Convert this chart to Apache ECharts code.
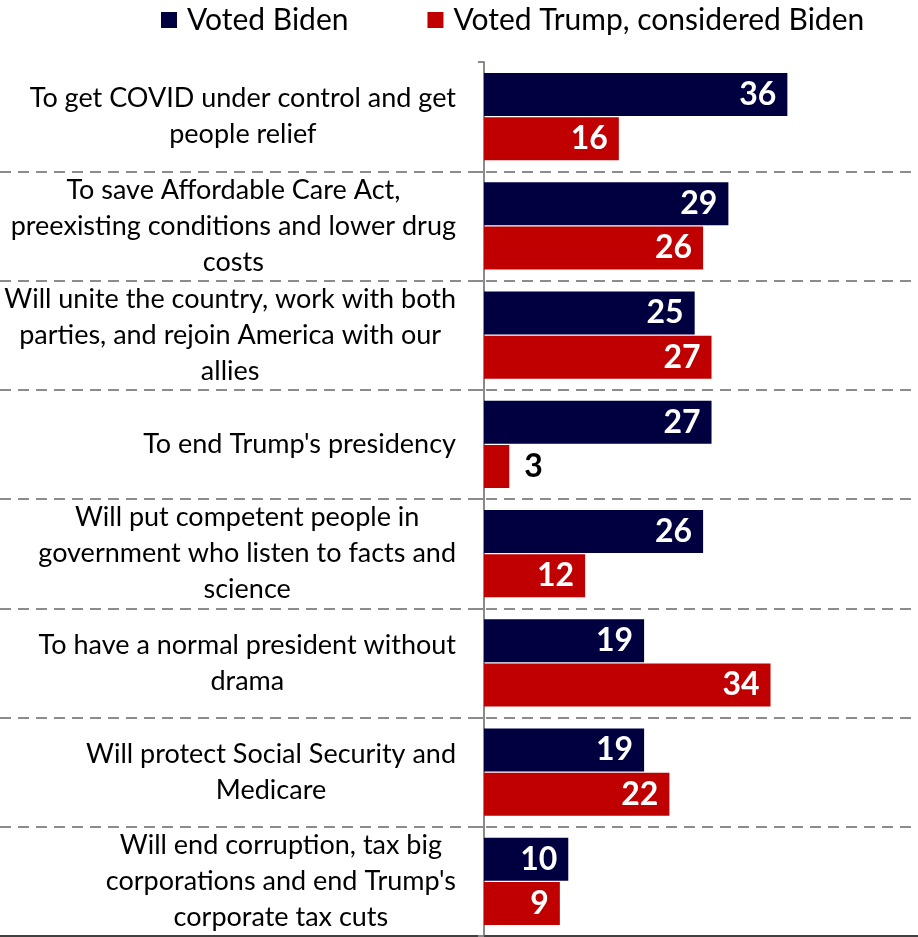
<!DOCTYPE html>
<html>
<head>
<meta charset="utf-8">
<script src="https://cdn.jsdelivr.net/npm/echarts@6/dist/echarts.min.js"></script>
<style>
html,body{margin:0;padding:0;background:#fff;}
#chart{width:918px;height:937px;}
</style>
</head>
<body>
<div id="chart"></div>
<script>
const categories = [
  "To get COVID under control and get\npeople relief",
  "To save Affordable Care Act,\npreexisting conditions and lower drug\ncosts",
  "Will unite the country, work with both\nparties, and rejoin America with our\nallies",
  "To end Trump's presidency",
  "Will put competent people in\ngovernment who listen to facts and\nscience",
  "To have a normal president without\ndrama",
  "Will protect Social Security and\nMedicare",
  "Will end corruption, tax big\ncorporations and end Trump's\ncorporate tax cuts"
];
const seriesNames = ["Voted Biden", "Voted Trump, considered Biden"];
const votedBiden = [36, 29, 25, 27, 26, 19, 19, 10];
const votedTrumpConsideredBiden = [16, 26, 27, 3, 12, 34, 22, 9];

const NAVY = '#000040';
const RED = '#C00000';
const FONT = 'Lato';

function buildData(vals) {
  return vals.map(v => v < 5
    ? { value: v, label: { position: 'right', color: '#000', distance: 15 } }
    : v);
}

const chart = echarts.init(document.getElementById('chart'), null, { renderer: 'canvas' });
const option = {
  animation: false,
  backgroundColor: '#fff',
  textStyle: { fontFamily: FONT },
  legend: {
    left: 161,
    top: 5,
    padding: 0,
    itemWidth: 16,
    itemHeight: 16,
    itemGap: 79,
    icon: 'rect',
    textStyle: { fontFamily: FONT, fontSize: 30, color: '#000', padding: [0, 0, 0, 5] },
    data: seriesNames
  },
  grid: [
    { left: 484, right: 0, top: 62, bottom: 1, containLabel: false, outerBoundsMode: 'none' },
    { left: 0, right: 0, top: 62, bottom: 1, containLabel: false, outerBoundsMode: 'none' }
  ],
  xAxis: [
    { type: 'value', gridIndex: 0, min: 0, max: 51.5, show: false },
    { type: 'value', gridIndex: 1, min: 0, max: 1,
      axisLine: { show: true, lineStyle: { color: '#404040', width: 2 } },
      axisTick: { show: false }, axisLabel: { show: false }, splitLine: { show: false } }
  ],
  yAxis: [
    {
      type: 'category', gridIndex: 0, inverse: true, data: categories,
      axisLine: { show: true, lineStyle: { color: '#8a8a8a', width: 2 } },
      axisTick: { show: true, length: 6, lineStyle: { color: '#8a8a8a', width: 2 } },
      axisLabel: {
        margin: 28,
        fontFamily: FONT,
        fontSize: 27,
        color: '#000',
        formatter: function (v) {
          return v.split('\n').map(s => '{c|' + s + '}').join('\n');
        },
        rich: { c: { align: 'center', fontFamily: FONT, fontSize: 27, lineHeight: 36, color: '#000' } }
      },
      splitLine: { show: false }
    },
    {
      type: 'category', gridIndex: 1, inverse: true, data: categories,
      axisLine: { show: false }, axisTick: { show: false }, axisLabel: { show: false },
      splitLine: { show: true, showMinLine: false, showMaxLine: false,
        lineStyle: { color: '#8c8c8c', width: 2, type: [11, 7] } }
    }
  ],
  series: [
    {
      name: seriesNames[0], type: 'bar', xAxisIndex: 0, yAxisIndex: 0,
      data: buildData(votedBiden),
      itemStyle: { color: NAVY },
      barCategoryGap: '20%', barGap: '3%',
      label: { show: true, position: 'insideRight', distance: 11, color: '#fff',
        fontFamily: FONT, fontWeight: 'bold', fontSize: 32 }
    },
    {
      name: seriesNames[1], type: 'bar', xAxisIndex: 0, yAxisIndex: 0,
      data: buildData(votedTrumpConsideredBiden),
      itemStyle: { color: RED },
      barCategoryGap: '20%', barGap: '3%',
      label: { show: true, position: 'insideRight', distance: 11, color: '#fff',
        fontFamily: FONT, fontWeight: 'bold', fontSize: 32 }
    }
  ]
};
chart.setOption(option);
</script>
</body>
</html>
